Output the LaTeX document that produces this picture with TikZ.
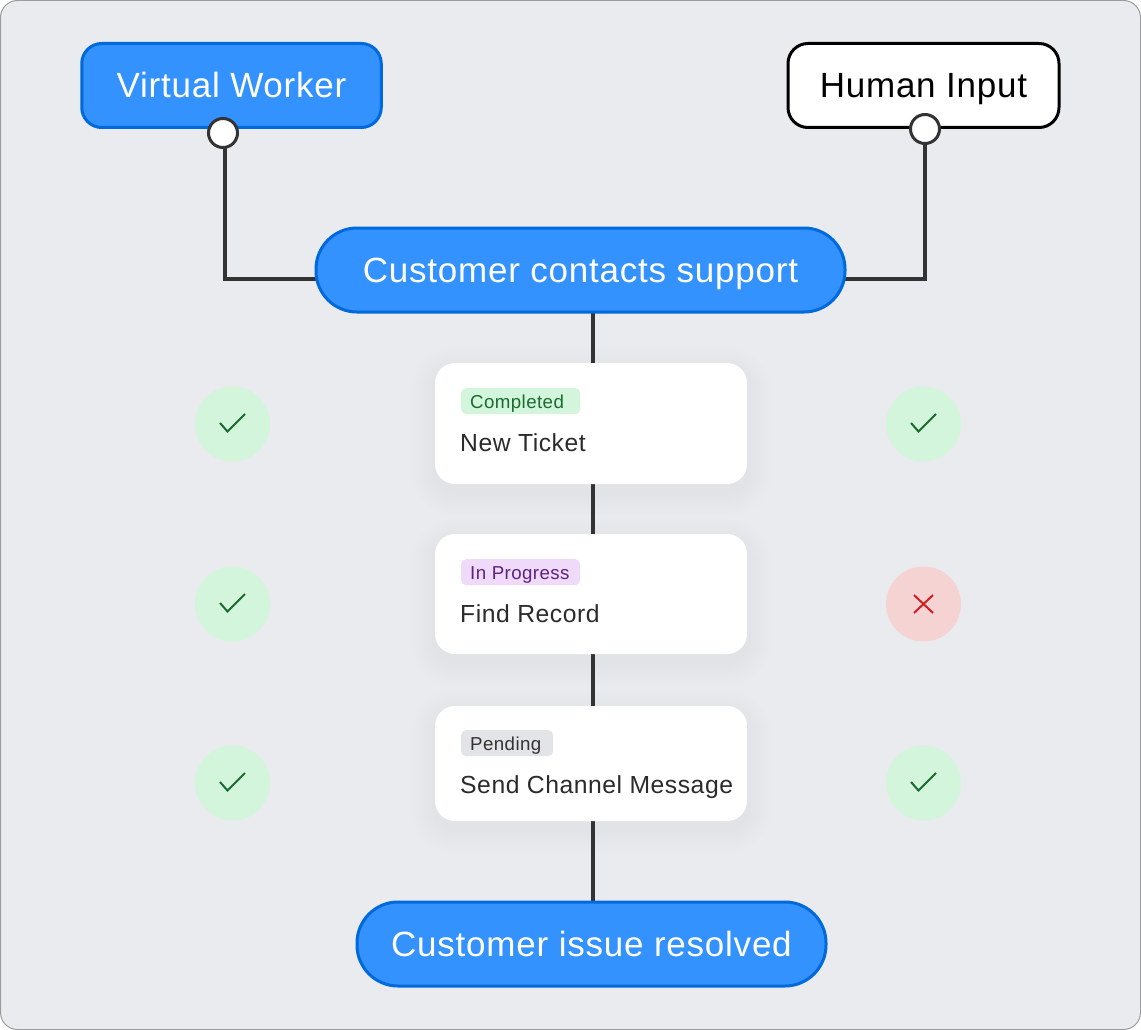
\documentclass[tikz,border=0pt]{standalone}
\usepackage{fontspec}
\setmainfont{Liberation Sans}[LetterSpace=2.2]
\usetikzlibrary{positioning}
\definecolor{pagegrey}{HTML}{E9EBEF}
\definecolor{edgegrey}{HTML}{9A9CA0}
\definecolor{bluefill}{HTML}{3492FF}
\definecolor{blueedge}{HTML}{0069DB}
\definecolor{wirecol}{HTML}{333333}
\definecolor{inkcol}{HTML}{2B2B2B}
\definecolor{greenfill}{HTML}{D3F5DC}
\definecolor{greenink}{HTML}{196B30}
\definecolor{purplefill}{HTML}{EFDAFA}
\definecolor{purpleink}{HTML}{5C2380}
\definecolor{greyfill}{HTML}{E3E4E8}
\definecolor{greyink}{HTML}{333333}
\definecolor{redfill}{HTML}{F6D3D3}
\definecolor{redink}{HTML}{CC1F26}
\pgfdeclarelayer{backdrop}
\pgfdeclarelayer{wirelayer}
\pgfsetlayers{backdrop,wirelayer,main}
\tikzset{
  headbox/.style={draw=blueedge,fill=bluefill,line width=3pt,rounded corners=20pt,text=white,font=\fontsize{35}{35}\selectfont,
    minimum height=84pt,inner sep=0pt,text height=26pt,text depth=1pt},
  pillbox/.style={headbox,rounded corners=41pt},
  dotnode/.style={circle,draw=wirecol,fill=white,line width=3pt,minimum size=29pt,inner sep=0pt},
  wire/.style={draw=wirecol,line width=3.5pt},
  cardbox/.style={fill=white,rounded corners=20pt,minimum width=312pt,inner sep=0pt},
  cardtext/.style={anchor=base west,text=inkcol,inner sep=0pt,font=\fontsize{24.7}{24.7}\selectfont},
  badgebox/.style={anchor=north west,rounded corners=5pt,minimum height=26pt,inner sep=0pt},
  badgetext/.style={anchor=base west,inner sep=0pt,font=\fontsize{18.7}{18.7}\selectfont},
  markdisc/.style={circle,minimum size=75pt,inner sep=0pt},
  tickmark/.style={draw=greenink,line width=2pt},
  crossmark/.style={draw=redink,line width=2pt}
}
\newcommand{\softshadow}[4]{% left, top, right, bottom
  \foreach \grow in {24,21,...,3}
    \fill[black,opacity=.004,rounded corners=20pt+\grow pt]
      (#1-\grow,#2+8-\grow) rectangle (#3+\grow,#4+8+\grow);
}
\begin{document}
\begin{tikzpicture}[x=1pt,y=-1pt]
  \useasboundingbox (0,0) rectangle (1141,1030);
  \begin{pgfonlayer}{backdrop}
    \draw[fill=pagegrey,draw=edgegrey,line width=1pt,rounded corners=17pt] (.5,.5) rectangle (1140.5,1029.5);
    \softshadow{435}{363}{747}{484}
    \softshadow{435}{534}{747}{654}
    \softshadow{435}{706}{747}{821}
  \end{pgfonlayer}

  % top row
  \node[headbox,minimum width=299.5pt] (virtual) at (231.5,85.5) {Virtual Worker};
  \node[headbox,draw=black,fill=white,text=black,minimum width=271pt] (human) at (923.5,85.5) {Human Input};
  \node[dotnode] (virtualdot) at (223,133) {};
  \node[dotnode] (humandot) at (925,129) {};
  \node[pillbox,minimum width=529pt] (contacts) at (580.5,270) {Customer contacts support};

  % cards
  \node[cardbox,minimum height=121pt] (ticket) at (591,423.5) {};
  \node[cardbox,minimum height=120pt] (record) at (591,594) {};
  \node[cardbox,minimum height=115pt] (message) at (591,763.5) {};
  \node[pillbox,minimum width=469pt] (resolved) at (591.5,944) {Customer issue resolved};

  \node[badgebox,fill=greenfill,minimum width=119pt] (donebadge) at (461,388) {};
  \node[badgebox,fill=purplefill,minimum width=119pt] (progressbadge) at (461,559) {};
  \node[badgebox,fill=greyfill,minimum width=92pt] (pendingbadge) at (461,730) {};
  \node[badgetext,text=greenink] (donetext) at (470,408.5) {Completed};
  \node[badgetext,text=purpleink] (progresstext) at (470,579.5) {In Progress};
  \node[badgetext,text=greyink] (pendingtext) at (470,750.5) {Pending};
  \node[cardtext] (tickettext) at (460,451.5) {New Ticket};
  \node[cardtext] (recordtext) at (460,622.5) {Find Record};
  \node[cardtext] (messagetext) at (460,793.5) {Send Channel Message};

  % status discs
  \foreach \name/\px/\py/\kind in {vwa/232.5/424/green,vwb/232.5/604/green,vwc/232.5/783/green,hia/923.5/424/green,hib/923.5/604/red,hic/923.5/783/green}
    \node[markdisc,fill=\kind fill] (\name) at (\px,\py) {};
  \foreach \name in {vwa,vwb,vwc,hia,hic}
    \draw[tickmark] ([shift={(-12.5,-1)}]\name.center) -- ([shift={(-5,7.5)}]\name.center) -- ([shift={(12.5,-10)}]\name.center);
  \draw[crossmark] ([shift={(-9.5,-9)}]hib.center) -- ([shift={(9.5,9)}]hib.center);
  \draw[crossmark] ([shift={(-9.5,9)}]hib.center) -- ([shift={(9.5,-9)}]hib.center);

  % connectors
  \coordinate (spine) at (593,0);
  \coordinate (virtualfoot) at (225,279);
  \coordinate (humanfoot) at (925,279);
  \begin{pgfonlayer}{wirelayer}
    \draw[wire] (virtualfoot |- virtualdot.center) -- (virtualfoot) -- (virtualfoot -| contacts.center);
    \draw[wire] (humandot.center) -- (humanfoot) -- (humanfoot -| contacts.center);
    \draw[wire] (spine |- contacts.center) -- (spine |- ticket.center);
    \draw[wire] (spine |- ticket.center) -- (spine |- record.center);
    \draw[wire] (spine |- record.center) -- (spine |- message.center);
    \draw[wire] (spine |- message.center) -- (spine |- resolved.center);
  \end{pgfonlayer}
\end{tikzpicture}
\end{document}
